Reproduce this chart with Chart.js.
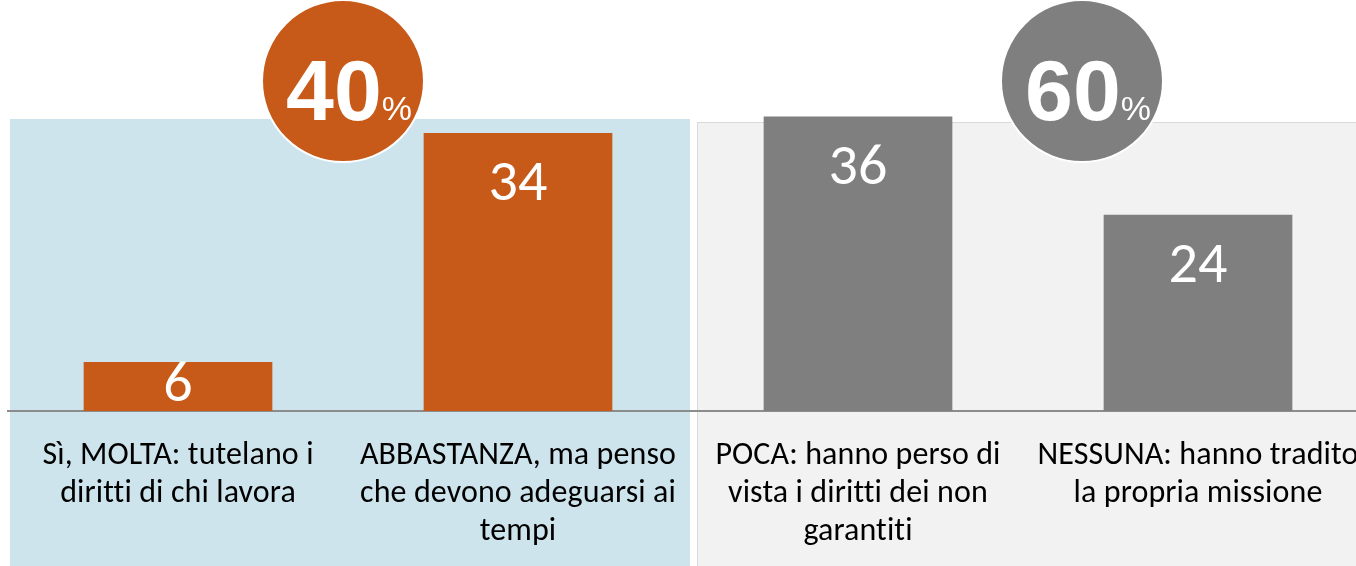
<!DOCTYPE html>
<html>
<head>
<meta charset="utf-8">
<script src="https://cdn.jsdelivr.net/npm/chart.js@4.4.1/dist/chart.umd.min.js"></script>
<style>
  html, body { margin: 0; padding: 0; background: #fff; overflow: hidden; }
  #wrap { width: 1370px; height: 566px; }
</style>
</head>
<body>
<div id="wrap"><canvas id="myBarChart" width="1370" height="566"></canvas></div>
<script>
const categories = [
  ["Sì, MOLTA: tutelano i", "diritti di chi lavora"],
  ["ABBASTANZA, ma penso", "che devono adeguarsi ai", "tempi"],
  ["POCA: hanno perso di", "vista i diritti dei non", "garantiti"],
  ["NESSUNA: hanno tradito", "la propria missione"],
];
const values = [6, 34, 36, 24];
const barColors = ["#c85a19", "#c85a19", "#7f7f7f", "#7f7f7f"];
const groupTotals = ["40", "60"];
const groupColors = ["#c85a19", "#7f7f7f"];

// sfondi colorati dietro ai due gruppi
const panelsPlugin = {
  id: "panels",
  beforeDraw(chart) {
    const ctx = chart.ctx;
    const x = chart.scales.x;
    const left = chart.chartArea.left;
    const mid = (x.getPixelForValue(1) + x.getPixelForValue(2)) / 2;
    ctx.letterSpacing = "0.1px"; // niente legature "tti"
    ctx.save();
    ctx.fillStyle = "#cde4ec";
    ctx.fillRect(left + 2, 119, mid + 2 - (left + 2), chart.height - 119);
    ctx.fillStyle = "#f2f2f2";
    ctx.fillRect(mid + 9, 122, chart.width - mid - 9, chart.height - 122);
    ctx.strokeStyle = "#d9d9d9";
    ctx.lineWidth = 1;
    ctx.beginPath();
    ctx.moveTo(mid + 9.5, chart.height);
    ctx.lineTo(mid + 9.5, 122.5);
    ctx.lineTo(chart.width, 122.5);
    ctx.stroke();
    ctx.restore();
  },
};

// valori dentro le barre + cerchi con le percentuali
const labelsPlugin = {
  id: "labels",
  afterDatasetsDraw(chart) {
    const ctx = chart.ctx;
    const meta = chart.getDatasetMeta(0);
    const base = chart.scales.y.getPixelForValue(0);
    ctx.save();
    ctx.letterSpacing = "0px";
    ctx.fillStyle = "#fff";
    ctx.textAlign = "center";
    ctx.textBaseline = "middle";
    ctx.font = "58px Carlito";
    meta.data.forEach((bar, i) => {
      const cy = Math.min(bar.y + 53, (bar.y + base) / 2);
      ctx.fillText(values[i], bar.x, cy);
    });

    const x = chart.scales.x;
    const centers = [
      (x.getPixelForValue(0) + x.getPixelForValue(1)) / 2 - 5,
      (x.getPixelForValue(2) + x.getPixelForValue(3)) / 2 + 54,
    ];
    centers.forEach((cx, i) => {
      const cy = 81;
      ctx.beginPath();
      ctx.arc(cx, cy, 81, 0, Math.PI * 2);
      ctx.fillStyle = groupColors[i];
      ctx.fill();
      ctx.lineWidth = 2;
      ctx.strokeStyle = "#fff";
      ctx.stroke();
      ctx.fillStyle = "#fff";
      ctx.textBaseline = "alphabetic";
      ctx.font = "bold 86px 'Liberation Sans'";
      const w1 = ctx.measureText(groupTotals[i]).width;
      ctx.font = "34px 'Liberation Sans'";
      const w2 = ctx.measureText("%").width;
      const start = cx - (w1 + w2) / 2 + 6;
      ctx.textAlign = "left";
      ctx.font = "bold 86px 'Liberation Sans'";
      ctx.fillText(groupTotals[i], start, cy + 39);
      ctx.font = "34px 'Liberation Sans'";
      ctx.fillText("%", start + w1, cy + 39);
      ctx.textAlign = "center";
    });
    ctx.restore();
  },
};

const ctx = document.getElementById("myBarChart").getContext("2d");
const myBarChart = new Chart(ctx, {
  type: "bar",
  data: {
    labels: categories,
    datasets: [
      {
        data: values,
        backgroundColor: barColors,
        borderWidth: 0,
        categoryPercentage: 1,
        barPercentage: 0.555,
      },
    ],
  },
  options: {
    responsive: false,
    animation: false,
    layout: { padding: { left: 8, right: 2, top: 2, bottom: 0 } },
    plugins: {
      legend: { display: false },
      tooltip: { enabled: false },
    },
    scales: {
      x: {
        grid: { display: false, drawTicks: false },
        border: { display: true, color: "#8c8c8c", width: 2 },
        ticks: {
          color: "#000",
          font: { family: "Carlito", size: 32, lineHeight: 1.19 },
          padding: 26,
          maxRotation: 0,
          autoSkip: false,
        },
        afterFit(scale) {
          scale.height = 155;
          scale.paddingLeft = 0;
          scale.paddingRight = 0;
        },
      },
      y: {
        display: false,
        min: 0,
        max: 50,
      },
    },
  },
  plugins: [panelsPlugin, labelsPlugin],
});
</script>
</body>
</html>
